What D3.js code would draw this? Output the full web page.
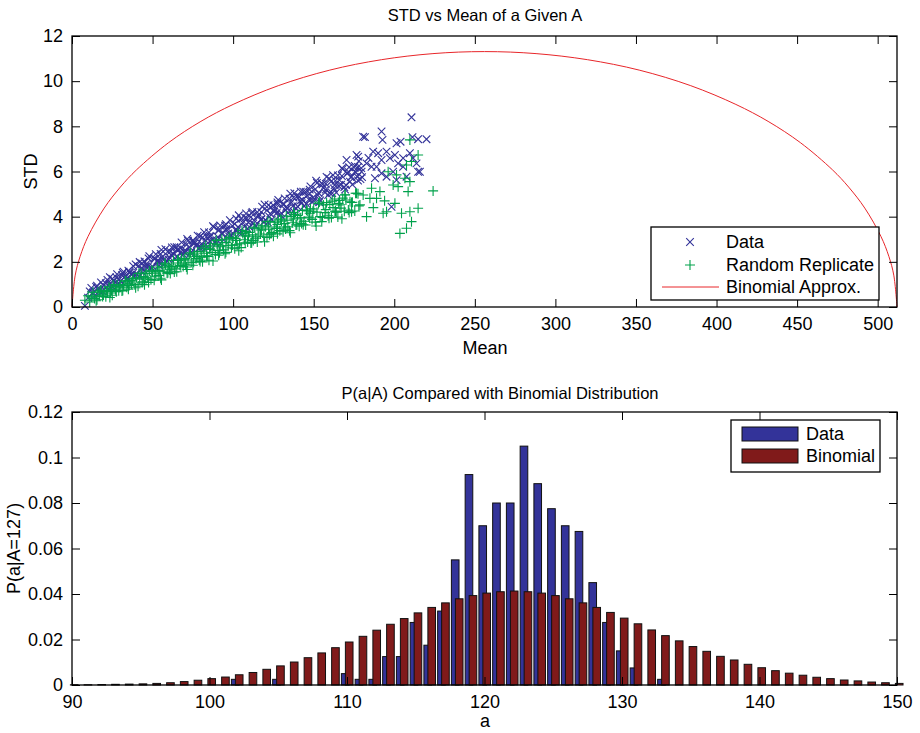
<!DOCTYPE html>
<html>
<head>
<meta charset="utf-8">
<script src="https://cdn.jsdelivr.net/npm/d3@7"></script>
<style>
  body { margin: 0; background: #fff; }
  svg text { font-family: "Liberation Sans", Arial, Helvetica, sans-serif; fill: #000; }
</style>
</head>
<body>
<div id="chart"></div>
<script>
// ---- top panel: STD vs mean ----
// [mean, std] of the observed data (x markers)
var dataPoints = [
  [8,0.05],[10,0.41],[11,0.69],[12,0.84],[13,0.64],[14,0.49],[15,0.89],[16,0.81],[17,0.72],[18,1.09],[19,0.70],
  [20,0.77],[21,1.05],[22,1.20],[23,1.00],[24,0.85],[25,1.25],[26,1.17],[27,1.08],[28,1.45],[29,1.06],
  [30,1.13],[31,1.41],[32,1.56],[33,1.36],[34,1.21],[35,1.61],[36,1.53],[37,1.44],[38,1.81],[39,1.42],
  [40,1.44],[41,1.80],[42,1.99],[43,1.71],[44,1.50],[45,2.02],[46,1.90],[47,1.77],[48,2.25],[49,1.72],
  [50,1.80],[51,2.15],[52,2.34],[53,2.05],[54,1.84],[55,2.35],[56,2.22],[57,2.09],[58,2.56],[59,2.03],
  [60,2.10],[61,2.45],[62,2.64],[63,2.35],[64,2.14],[65,2.65],[66,2.52],[67,2.39],[68,2.86],[69,2.33],
  [70,2.40],[71,2.75],[72,2.94],[73,2.65],[74,2.44],[75,2.95],[76,2.82],[77,2.69],[78,3.16],[79,2.63],
  [80,2.65],[81,3.08],[82,3.31],[83,2.94],[84,2.67],[85,3.30],[86,3.13],[87,2.96],[88,3.54],[89,2.87],
  [90,2.95],[91,3.38],[92,3.61],[93,3.24],[94,2.97],[95,3.60],[96,3.43],[97,3.26],[98,3.84],[99,3.17],
  [100,3.25],[101,3.68],[102,3.91],[103,3.54],[104,3.27],[105,3.90],[106,3.73],[107,3.56],[108,4.14],[109,3.47],
  [110,3.55],[111,3.98],[112,4.21],[113,3.84],[114,3.57],[115,4.20],[116,4.03],[117,3.86],[118,4.44],[119,3.77],
  [120,3.85],[121,4.28],[122,4.51],[123,4.14],[124,3.87],[125,4.50],[126,4.33],[127,4.16],[128,4.74],[129,4.07],
  [130,4.15],[131,4.58],[132,4.81],[133,4.44],[134,4.17],[135,4.80],[136,4.63],[137,4.46],[138,5.04],[139,4.37],
  [140,4.45],[141,4.88],[142,5.11],[143,4.74],[144,4.47],[145,5.10],[146,4.93],[147,4.76],[148,5.34],[149,4.67],
  [150,4.70],[151,5.22],[152,5.49],[153,5.05],[154,4.72],[155,5.48],[156,5.27],[157,5.07],[158,5.76],[159,4.96],
  [160,5.05],[161,5.57],[162,5.84],[163,5.40],[164,5.07],[165,5.83],[166,5.62],[167,5.42],[168,6.11],[169,5.31],
  [170,5.40],[171,5.92],[172,6.19],[173,5.75],[174,5.42],[175,6.18],[176,5.97],[177,5.77],[178,6.46],[179,5.66],[180,5.75],
  [24.5,0.95],[34.5,1.30],[44.5,1.65],[54.5,2.00],[60.5,2.20],[65.5,2.55],[70.5,2.50],[75.5,2.85],[80.5,2.80],
  [85.5,3.15],[90.5,3.10],[95.5,3.45],[102.5,3.40],[107.5,3.95],[112.5,3.70],[117.5,4.20],[122.5,4.00],
  [127.5,4.55],[132.5,4.30],[137.5,4.85],[142.5,4.60],[147.5,5.20],[152.5,4.95],[157.5,5.45],[162.5,5.25],
  [167.5,5.80],[172.5,5.55],[177.5,6.20],
  [15.5,0.94],[17.5,0.65],[19.5,0.96],[21.5,0.88],[23.5,1.32],[25.5,0.88],[27.5,1.31],[29.5,1.23],[31.5,1.51],
  [33.5,1.23],[35.5,1.54],[37.5,1.46],[39.5,1.89],[41.5,1.37],[43.5,1.93],[45.5,1.80],[47.5,2.15],[49.5,1.74],
  [51.5,2.13],[53.5,1.99],[55.5,2.53],[57.5,1.91],[59.5,2.45],[61.5,2.31],[63.5,2.65],[65.5,2.23],[67.5,2.61],
  [69.5,2.47],[71.5,3.01],[73.5,2.39],[75.5,2.93],[77.5,2.79],[79.5,3.13],[81.5,2.65],[83.5,3.11],[85.5,2.92],
  [87.5,3.58],[89.5,2.79],[91.5,3.45],[93.5,3.26],[95.5,3.67],[97.5,3.13],[99.5,3.59],[101.5,3.40],[103.5,4.06],
  [105.5,3.27],[108.5,3.93],[109.5,3.74],[111.5,4.15],[113.5,3.61],[115.5,4.07],[117.5,3.88],[119.5,4.54],
  [121.5,3.75],[123.5,4.41],[125.5,4.22],[127.5,4.63],[129.5,4.09],[131.5,4.55],[133.5,4.36],[135.5,5.02],
  [137.5,4.23],[139.5,4.89],[141.5,4.70],[143.5,5.11],[145.5,4.57],[147.5,5.03],[149.5,4.84],[151.5,5.59],
  [153.5,4.64],[155.5,5.43],[157.5,5.20],[159.5,5.69],[161.5,5.04],[163.5,5.59],[165.5,5.36],[167.5,6.15],
  [169.5,5.20],[171.5,5.99],[173.5,5.76],[175.5,6.25],[177.5,5.60],[179.5,6.15],
  [210.7,8.40],[181.8,7.52],[192.1,7.77],[192.7,7.40],[201.4,7.25],[203.9,7.32],[211.3,7.52],[214.8,7.43],
  [220.0,7.43],[170.4,6.51],[177.6,6.66],[186.9,6.88],[190.0,6.81],[195.2,6.88],[197.3,6.59],[200.4,6.73],
  [205.5,6.59],[209.7,6.81],[211.7,6.59],[213.8,6.36],[215.9,5.99],[182.8,6.36],[189.0,6.21],[192.1,5.92],
  [195.2,5.77],[199.3,5.99],[202.4,6.36],[205.5,6.21],[201.4,5.62],[198.3,4.44],[207.6,5.77],[192.1,6.51],
  [185.9,6.21],[179.7,5.99],[175.6,5.99],[180.7,7.54],[176.6,6.73],[214.8,5.99],[184.0,6.60],[188.0,5.70]
];

// [mean, std] of the random replicate (+ markers)
var replicatePoints = [
  [8,0.30],[10,0.50],[11,0.22],[12,0.45],[13,0.65],[14,0.38],[15,0.28],[16,0.66],[17,0.50],[18,0.74],[19,0.46],
  [20,0.72],[21,0.45],[22,0.68],[23,0.89],[24,0.62],[25,0.52],[26,0.91],[27,0.76],[28,0.99],[29,0.72],
  [30,0.99],[31,0.71],[32,0.95],[33,1.16],[34,0.88],[35,0.79],[36,1.18],[37,1.02],[38,1.26],[39,0.99],
  [40,1.29],[41,0.92],[42,1.23],[43,1.49],[44,1.12],[45,0.99],[46,1.49],[47,1.28],[48,1.59],[49,1.21],
  [50,1.56],[51,1.19],[52,1.50],[53,1.77],[54,1.40],[55,1.27],[56,1.77],[57,1.56],[58,1.87],[59,1.50],
  [60,1.85],[61,1.48],[62,1.79],[63,2.06],[64,1.69],[65,1.56],[66,2.06],[67,1.85],[68,2.16],[69,1.79],
  [70,2.14],[71,1.77],[72,2.08],[73,2.35],[74,1.98],[75,1.85],[76,2.35],[77,2.14],[78,2.45],[79,2.08],
  [80,2.47],[81,2.00],[82,2.38],[83,2.71],[84,2.24],[85,2.07],[86,2.69],[87,2.42],[88,2.80],[89,2.33],
  [90,2.76],[91,2.29],[92,2.67],[93,3.00],[94,2.53],[95,2.36],[96,2.98],[97,2.71],[98,3.09],[99,2.62],
  [100,3.05],[101,2.58],[102,2.95],[103,3.28],[104,2.80],[105,2.63],[106,3.25],[107,2.98],[108,3.35],[109,2.88],
  [110,3.30],[111,2.83],[112,3.20],[113,3.53],[114,3.05],[115,2.88],[116,3.50],[117,3.23],[118,3.60],[119,3.13],
  [120,3.55],[121,3.08],[122,3.45],[123,3.78],[124,3.30],[125,3.13],[126,3.75],[127,3.48],[128,3.85],[129,3.38],
  [130,3.80],[131,3.33],[132,3.70],[133,4.03],[134,3.55],[135,3.38],[136,4.00],[137,3.73],[138,4.10],[139,3.63],
  [140,4.05],[141,3.58],[142,3.95],[143,4.28],[144,3.80],[145,3.63],[146,4.25],[147,3.98],[148,4.35],[149,3.88],
  [150,4.34],[151,3.76],[152,4.20],[153,4.58],[154,4.00],[155,3.78],[156,4.52],[157,4.18],[158,4.62],[159,4.04],
  [160,4.54],[161,3.96],[162,4.40],[163,4.78],[164,4.20],[165,3.98],[166,4.72],[167,4.38],[168,4.82],[169,4.24],
  [170,4.74],[172,4.18],[174,4.64],[176,5.04],[178,4.48],
  [24.5,0.75],[34.5,1.05],[44.5,1.35],[54.5,1.60],[60.5,1.65],[65.5,1.95],[70.5,1.90],[75.5,2.25],[80.5,2.20],
  [85.5,2.55],[90.5,2.50],[95.5,2.85],[102.5,2.75],[107.5,3.15],[112.5,2.95],[117.5,3.40],[122.5,3.20],
  [127.5,3.65],[132.5,3.45],[137.5,3.90],[142.5,3.70],[147.5,4.15],
  [15.5,0.32],[17.5,0.72],[19.5,0.53],[21.5,0.73],[23.5,0.42],[25.5,0.99],[27.5,0.68],[29.5,0.88],[31.5,0.73],
  [33.5,1.14],[35.5,0.95],[37.5,1.16],[39.5,0.85],[41.5,1.49],[43.5,1.07],[45.5,1.32],[47.5,1.09],[49.5,1.63],
  [51.5,1.36],[53.5,1.62],[55.5,1.20],[57.5,1.94],[59.5,1.52],[61.5,1.77],[63.5,1.55],[65.5,2.09],[67.5,1.83],
  [69.5,2.09],[71.5,1.66],[73.5,2.40],[75.5,1.98],[77.5,2.24],[79.5,2.02],[81.5,2.61],[83.5,2.27],[85.5,2.58],
  [87.5,2.04],[89.5,2.95],[91.5,2.40],[93.5,2.71],[95.5,2.42],[97.5,3.08],[99.5,2.74],[101.5,3.04],[103.5,2.49],
  [105.5,3.39],[107.5,2.84],[109.5,3.14],[111.5,2.84],[113.5,3.49],[115.5,3.14],[117.5,3.44],[119.5,2.89],
  [121.5,3.79],[123.5,3.24],[125.5,3.54],[127.5,3.24],[129.5,3.89],[131.5,3.54],[133.5,3.84],[135.5,3.29],
  [137.5,4.19],[139.5,3.64],[141.5,3.94],[143.5,3.64],[145.5,4.29],[147.5,3.94],[149.5,4.24],[151.5,3.59],
  [153.5,4.65],[155.5,3.97],[157.5,4.31],[159.5,3.93],[161.5,4.69],[163.5,4.25],[165.5,4.59],[167.5,3.91],
  [169.5,4.97],[171.5,4.29],[173.5,4.63],[175.5,4.25],[177.5,5.01],
  [209.7,7.40],[214.8,6.73],[224.1,5.14],[209.7,5.55],[202.4,5.33],[208.6,5.11],[200.4,4.59],[204.5,4.15],
  [209.7,4.22],[214.8,4.37],[210.7,3.78],[207.6,3.49],[203.5,3.26],[195.2,4.22],[182.8,4.00],[193.1,4.15],
  [189.0,4.81],[184.9,4.81],[199.3,5.40],[206.6,5.70],[207.6,6.29],[210.7,6.44],[196.2,5.99],[201.4,5.85],
  [178.7,4.52],[172.5,4.66],[166.3,4.52],[163.2,4.22],[173.5,4.22],[180.7,4.96],[185.9,5.26],[191.1,5.11],
  [176.6,5.04],[169.4,4.96],[187.0,4.40],[194.0,4.70]
];

// binomial approximation curve
var approxMean = [0, 2, 5, 10, 20, 30, 40, 60, 80, 100, 128, 160, 192, 224, 256,
                  288, 320, 352, 384, 412, 432, 452, 472, 482, 492, 502, 507, 510, 512];
var approxStd  = [0, 1.41, 2.23, 3.13, 4.38, 5.31, 6.07, 7.28, 8.22, 8.97, 9.80, 10.49, 10.95, 11.22, 11.31,
                  11.22, 10.95, 10.49, 9.80, 8.97, 8.22, 7.28, 6.07, 5.31, 4.38, 3.13, 2.23, 1.41, 0];

var topXTicks = [0, 50, 100, 150, 200, 250, 300, 350, 400, 450, 500];
var topYTicks = [0, 2, 4, 6, 8, 10, 12];

// ---- bottom panel: P(a|A=127) ----
var aValues = [90, 91, 92, 93, 94, 95, 96, 97, 98, 99,
               100, 101, 102, 103, 104, 105, 106, 107, 108, 109,
               110, 111, 112, 113, 114, 115, 116, 117, 118, 119,
               120, 121, 122, 123, 124, 125, 126, 127, 128, 129,
               130, 131, 132, 133, 134, 135, 136, 137, 138, 139,
               140, 141, 142, 143, 144, 145, 146, 147, 148, 149, 150];
var dataProb = [0, 0, 0, 0, 0, 0, 0, 0, 0, 0,
                0, 0, 0.0025, 0, 0, 0.0025, 0, 0, 0, 0,
                0.005, 0.0025, 0.0025, 0.0125, 0.0125, 0.0275, 0.0175, 0.0325, 0.055, 0.0925,
                0.07, 0.08, 0.08, 0.105, 0.0885, 0.0775, 0.07, 0.0675, 0.045, 0.0275,
                0.015, 0.0075, 0, 0.0025, 0, 0, 0, 0, 0, 0,
                0, 0, 0, 0, 0, 0, 0, 0, 0, 0, 0];
var binomProb = [0.0001, 0.0001, 0.0002, 0.0003, 0.0004, 0.0005, 0.0007, 0.0010, 0.0015, 0.0021,
                 0.0028, 0.0035, 0.0045, 0.0055, 0.0069, 0.0084, 0.0101, 0.0120, 0.0141, 0.0164,
                 0.0189, 0.0214, 0.0241, 0.0267, 0.0292, 0.0317, 0.0341, 0.0361, 0.0379, 0.0393,
                 0.0404, 0.0410, 0.0413, 0.0410, 0.0404, 0.0393, 0.0379, 0.0361, 0.0341, 0.0319,
                 0.0294, 0.0269, 0.0242, 0.0217, 0.0194, 0.0169, 0.0148, 0.0126, 0.0110, 0.0091,
                 0.0076, 0.0063, 0.0052, 0.0043, 0.0034, 0.0028, 0.0022, 0.0018, 0.0013, 0.0010, 0.0007];

var botXTicks = [90, 100, 110, 120, 130, 140, 150];
var botYTicks = [0, 0.02, 0.04, 0.06, 0.08, 0.1, 0.12];

var BLUE = '#333399', GREEN = '#00a14b', RED = '#e8262a';
var BAR_BLUE = '#333399', BAR_RED = '#801a1a';
var FS = 18, TITLE_FS = 16.5;

var W = 920, H = 733;
var svg = d3.select('#chart').append('svg')
  .attr('width', W).attr('height', H);

var left = 72, right = 897;
var TICK = 8;

// draws a MATLAB-like boxed axes with inward ticks
function boxAxes(x, y, top, bottom, xTicks, yTicks, yFmt) {
  var g = svg.append('g');
  g.append('g')
    .attr('transform', 'translate(0,' + bottom + ')')
    .call(d3.axisBottom(x).tickValues(xTicks).tickSizeInner(-TICK).tickSizeOuter(0).tickPadding(10));
  g.append('g')
    .attr('transform', 'translate(0,' + top + ')')
    .call(d3.axisTop(x).tickValues(xTicks).tickSizeInner(-TICK).tickSizeOuter(0).tickFormat(''));
  g.append('g')
    .attr('transform', 'translate(' + left + ',0)')
    .call(d3.axisLeft(y).tickValues(yTicks).tickSizeInner(-TICK).tickSizeOuter(0).tickPadding(9).tickFormat(yFmt));
  g.append('g')
    .attr('transform', 'translate(' + right + ',0)')
    .call(d3.axisRight(y).tickValues(yTicks).tickSizeInner(-TICK).tickSizeOuter(0).tickFormat(''));
  g.selectAll('.domain').remove();
  g.selectAll('.tick line').attr('stroke', '#000').attr('stroke-width', 1);
  g.selectAll('.tick text').attr('font-size', FS).attr('fill', '#000');
  g.append('rect')
    .attr('x', left).attr('y', top)
    .attr('width', right - left).attr('height', bottom - top)
    .attr('fill', 'none').attr('stroke', '#000').attr('stroke-width', 1.3);
  return g;
}

// ================= top panel =================
var t0 = 36, b0 = 307;
var x1 = d3.scaleLinear().domain([0, 512]).range([left, right]);
var y1 = d3.scaleLinear().domain([0, 12]).range([b0, t0]);

var plot1 = svg.append('g');

plot1.selectAll('.xmark')
  .data(dataPoints)
  .enter().append('path')
  .attr('class', 'xmark')
  .attr('transform', function(d) { return 'translate(' + x1(d[0]) + ',' + y1(d[1]) + ')'; })
  .attr('d', 'M-3.8,-3.8L3.8,3.8M-3.8,3.8L3.8,-3.8')
  .attr('stroke', BLUE).attr('stroke-width', 1.1).attr('fill', 'none');

plot1.selectAll('.pmark')
  .data(replicatePoints)
  .enter().append('path')
  .attr('class', 'pmark')
  .attr('transform', function(d) { return 'translate(' + x1(d[0]) + ',' + y1(d[1]) + ')'; })
  .attr('d', 'M-5,0L5,0M0,-5L0,5')
  .attr('stroke', GREEN).attr('stroke-width', 1.1).attr('fill', 'none');

var approx = approxMean.map(function(m, i) { return [m, approxStd[i]]; });
plot1.append('path')
  .datum(approx)
  .attr('fill', 'none').attr('stroke', RED).attr('stroke-width', 1)
  .attr('d', d3.line()
    .x(function(d) { return x1(d[0]); })
    .y(function(d) { return y1(d[1]); })
    .curve(d3.curveCatmullRom.alpha(0.5)));

boxAxes(x1, y1, t0, b0, topXTicks, topYTicks, d3.format('d'));

svg.append('text').attr('x', 485).attr('y', 21).attr('text-anchor', 'middle')
  .attr('font-size', TITLE_FS).text('STD vs Mean of a Given A');
svg.append('text').attr('x', 485).attr('y', 354).attr('text-anchor', 'middle')
  .attr('font-size', FS).text('Mean');
svg.append('text').attr('transform', 'translate(37,' + ((t0 + b0) / 2) + ') rotate(-90)')
  .attr('text-anchor', 'middle').attr('font-size', FS).text('STD');

// legend (top)
var lg1 = svg.append('g');
lg1.append('rect').attr('x', 651).attr('y', 227).attr('width', 228).attr('height', 73)
  .attr('fill', '#fff').attr('stroke', '#000').attr('stroke-width', 1.3);
lg1.append('path').attr('transform', 'translate(690,242)')
  .attr('d', 'M-3.8,-3.8L3.8,3.8M-3.8,3.8L3.8,-3.8')
  .attr('stroke', BLUE).attr('stroke-width', 1.1).attr('fill', 'none');
lg1.append('path').attr('transform', 'translate(690,265)')
  .attr('d', 'M-5,0L5,0M0,-5L0,5')
  .attr('stroke', GREEN).attr('stroke-width', 1.1).attr('fill', 'none');
lg1.append('line').attr('x1', 662).attr('x2', 719).attr('y1', 287).attr('y2', 287)
  .attr('stroke', RED).attr('stroke-width', 1);
[['Data', 242], ['Random Replicate', 265], ['Binomial Approx.', 287]].forEach(function(r) {
  lg1.append('text').attr('x', 726).attr('y', r[1]).attr('dy', '0.35em')
    .attr('font-size', FS).text(r[0]);
});

// ================= bottom panel =================
var t1 = 412, b1 = 685;
var x2 = d3.scaleLinear().domain([90, 150]).range([left, right]);
var y2 = d3.scaleLinear().domain([0, 0.12]).range([b1, t1]);
var barW = x2(90.555) - x2(90);

var plot2 = svg.append('g');
plot2.selectAll('.dbar')
  .data(aValues.map(function(a, i) { return [a, dataProb[i]]; }).filter(function(d) { return d[1] > 0; }))
  .enter().append('rect')
  .attr('class', 'dbar')
  .attr('x', function(d) { return x2(d[0] - 0.13) - barW / 2; })
  .attr('y', function(d) { return y2(d[1]); })
  .attr('width', barW)
  .attr('height', function(d) { return b1 - y2(d[1]); })
  .attr('fill', BAR_BLUE).attr('stroke', '#111').attr('stroke-width', 1);

plot2.selectAll('.bbar')
  .data(aValues.map(function(a, i) { return [a, binomProb[i]]; }))
  .enter().append('rect')
  .attr('class', 'bbar')
  .attr('x', function(d) { return x2(d[0] + 0.16) - barW / 2; })
  .attr('y', function(d) { return y2(d[1]); })
  .attr('width', barW)
  .attr('height', function(d) { return b1 - y2(d[1]); })
  .attr('fill', BAR_RED).attr('stroke', '#111').attr('stroke-width', 1);

var probFmt = function(d) { return d === 0 ? '0' : String(+d.toFixed(2)); };
boxAxes(x2, y2, t1, b1, botXTicks, botYTicks, probFmt);

svg.append('text').attr('x', 500).attr('y', 399).attr('text-anchor', 'middle')
  .attr('font-size', TITLE_FS).text('P(a|A) Compared with Binomial Distribution');
svg.append('text').attr('x', 485).attr('y', 727).attr('text-anchor', 'middle')
  .attr('font-size', FS).text('a');
svg.append('text').attr('transform', 'translate(20,' + ((t1 + b1) / 2) + ') rotate(-90)')
  .attr('text-anchor', 'middle').attr('font-size', FS).text('P(a|A=127)');

// legend (bottom)
var lg2 = svg.append('g');
lg2.append('rect').attr('x', 731).attr('y', 420).attr('width', 149).attr('height', 52)
  .attr('fill', '#fff').attr('stroke', '#000').attr('stroke-width', 1.3);
[[BAR_BLUE, 'Data', 427], [BAR_RED, 'Binomial', 449]].forEach(function(r) {
  lg2.append('rect').attr('x', 742).attr('y', r[2]).attr('width', 56).attr('height', 14)
    .attr('fill', r[0]).attr('stroke', '#111').attr('stroke-width', 1);
  lg2.append('text').attr('x', 806).attr('y', r[2] + 7).attr('dy', '0.35em')
    .attr('font-size', FS).text(r[1]);
});
</script>
</body>
</html>
